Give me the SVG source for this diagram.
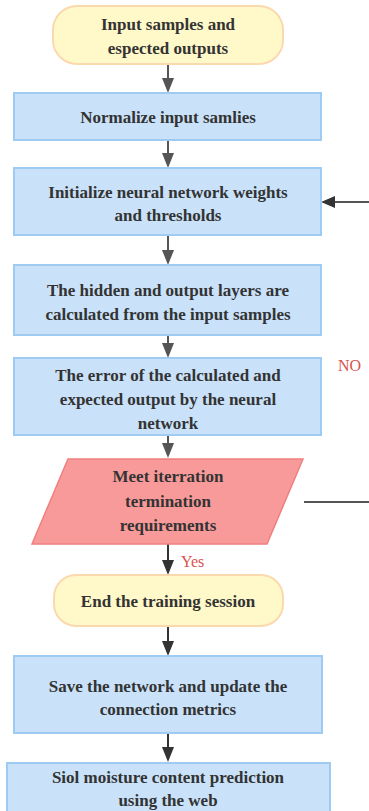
<svg xmlns="http://www.w3.org/2000/svg" width="369" height="811" viewBox="0 0 369 811">
<defs>
<path id="ah" d="M-6,-15 L6,-15 L0,0 Z"/>
</defs>
<rect width="369" height="811" fill="#fff"/>
<g id="connectors" stroke-width="2" fill="none">
<g stroke="#555">
<line x1="168" y1="64" x2="168" y2="79"/>
<line x1="168" y1="140" x2="168" y2="154"/>
<line x1="168" y1="235" x2="168" y2="251"/>
<line x1="168" y1="335" x2="168" y2="345"/>
<line x1="168" y1="435" x2="168" y2="445"/>
<line x1="304" y1="502" x2="369" y2="502"/>
<line x1="369" y1="202" x2="334" y2="202"/>
</g>
<g stroke="#333">
<line x1="168" y1="544" x2="168" y2="562"/>
<line x1="168" y1="626" x2="168" y2="643"/>
<line x1="168" y1="733" x2="168" y2="749"/>
</g>
<g fill="#555" stroke="none">
<use href="#ah" x="168" y="93"/><use href="#ah" x="168" y="168"/><use href="#ah" x="168" y="265"/><use href="#ah" x="168" y="358"/><use href="#ah" x="168" y="458"/>
</g>
<g fill="#333" stroke="none">
<use href="#ah" x="168" y="575"/><use href="#ah" x="168" y="656"/><use href="#ah" x="168" y="762"/>
<path d="M335,196 L335,208 L321,202 Z"/>
</g>
<text font-family="Liberation Serif" font-size="16" fill="#d9534f" stroke="none" x="338" y="371">NO</text>
<text font-family="Liberation Serif" font-size="16" fill="#d9534f" stroke="none" x="181" y="567">Yes</text>
</g>
<g fill="#c9e2fa" stroke="#9ecbf2" stroke-width="2">
<rect id="r2" x="14" y="93" width="307" height="47"/>
<rect id="r3" x="14" y="168" width="307" height="67"/>
<rect id="r4" x="14" y="265" width="307" height="70"/>
<rect id="r5" x="14" y="358" width="307" height="77"/>
<rect id="r8" x="14" y="656" width="308" height="77"/>
<rect id="r9" x="7" y="763" width="323" height="52"/>
</g>
<g fill="#fff9c9" stroke="#fbd9ae" stroke-width="2">
<rect id="r1" x="53" y="6" width="230" height="58" rx="24"/>
<rect id="r7" x="54" y="575" width="229" height="51" rx="22"/>
</g>
<polygon id="r6" points="68,459 303,459 267,544 32,544" fill="#f99a9a" stroke="#f07f7f" stroke-width="1.5"/>
<g id="n1"><text font-family="Liberation Serif" font-weight="bold" font-size="17" fill="#333" text-anchor="middle" x="168" y="30">Input samples and</text><text font-family="Liberation Serif" font-weight="bold" font-size="17" fill="#333" text-anchor="middle" x="168" y="54">espected outputs</text></g>
<g id="n2"><text font-family="Liberation Serif" font-weight="bold" font-size="17" fill="#333" text-anchor="middle" x="168" y="123">Normalize input samlies</text></g>
<g id="n3"><text font-family="Liberation Serif" font-weight="bold" font-size="17" fill="#333" text-anchor="middle" x="168" y="198">Initialize neural network weights</text><text font-family="Liberation Serif" font-weight="bold" font-size="17" fill="#333" text-anchor="middle" x="168" y="221">and thresholds</text></g>
<g id="n4"><text font-family="Liberation Serif" font-weight="bold" font-size="17" fill="#333" text-anchor="middle" x="168" y="296">The hidden and output layers are</text><text font-family="Liberation Serif" font-weight="bold" font-size="17" fill="#333" text-anchor="middle" x="168" y="320">calculated from the input samples</text></g>
<g id="n5"><text font-family="Liberation Serif" font-weight="bold" font-size="17" fill="#333" text-anchor="middle" x="168" y="381">The error of the calculated and</text><text font-family="Liberation Serif" font-weight="bold" font-size="17" fill="#333" text-anchor="middle" x="168" y="405">expected output by the neural</text><text font-family="Liberation Serif" font-weight="bold" font-size="17" fill="#333" text-anchor="middle" x="168" y="429">network</text></g>
<g id="n6"><text font-family="Liberation Serif" font-weight="bold" font-size="17" fill="#333" text-anchor="middle" x="168" y="482">Meet iterration</text><text font-family="Liberation Serif" font-weight="bold" font-size="17" fill="#333" text-anchor="middle" x="168" y="507">termination</text><text font-family="Liberation Serif" font-weight="bold" font-size="17" fill="#333" text-anchor="middle" x="168" y="531">requirements</text></g>
<g id="n7"><text font-family="Liberation Serif" font-weight="bold" font-size="17" fill="#333" text-anchor="middle" x="168" y="607">End the training session</text></g>
<g id="n8"><text font-family="Liberation Serif" font-weight="bold" font-size="17" fill="#333" text-anchor="middle" x="168" y="692">Save the network and update the</text><text font-family="Liberation Serif" font-weight="bold" font-size="17" fill="#333" text-anchor="middle" x="168" y="715">connection metrics</text></g>
<g id="n9"><text font-family="Liberation Serif" font-weight="bold" font-size="17" fill="#333" text-anchor="middle" x="168" y="783">Siol moisture content prediction</text><text font-family="Liberation Serif" font-weight="bold" font-size="17" fill="#333" text-anchor="middle" x="168" y="806">using the web</text></g>
</svg>
